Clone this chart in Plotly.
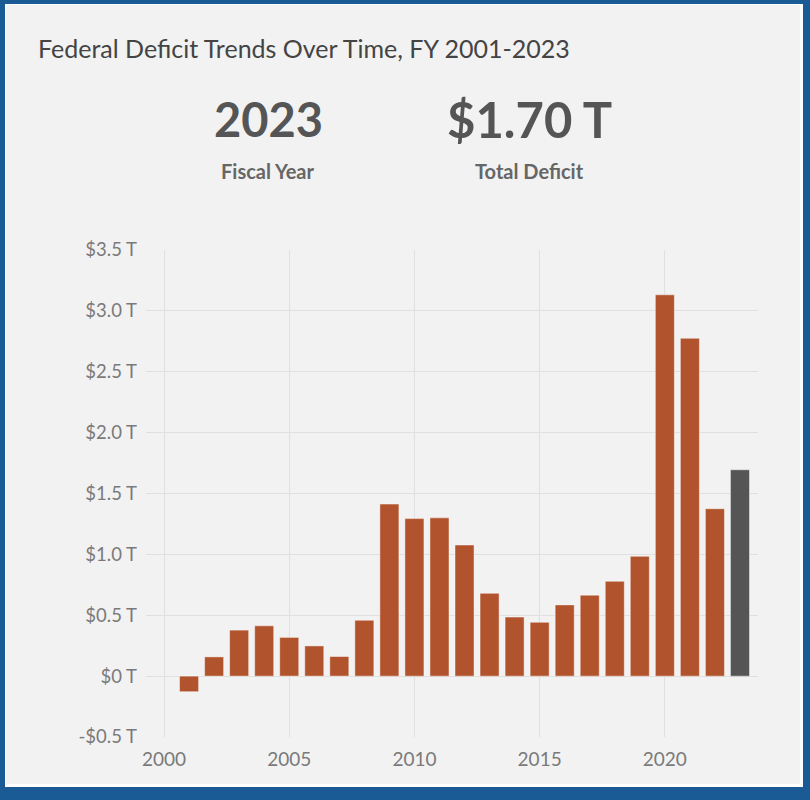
import plotly.graph_objects as go

# ---- data ----
years = list(range(2001, 2024))
deficit_t = [-0.128, 0.158, 0.378, 0.413, 0.318, 0.248, 0.161, 0.459, 1.413, 1.294,
             1.300, 1.077, 0.680, 0.485, 0.442, 0.585, 0.665, 0.779, 0.984, 3.132,
             2.775, 1.375, 1.695]
y_tick_vals = [-0.5, 0, 0.5, 1.0, 1.5, 2.0, 2.5, 3.0, 3.5]
y_tick_text = ["-$0.5 T", "$0 T", "$0.5 T", "$1.0 T", "$1.5 T", "$2.0 T", "$2.5 T", "$3.0 T", "$3.5 T"]
x_tick_vals = [2000, 2005, 2010, 2015, 2020]

title_text = "Federal Deficit Trends Over Time, FY 2001-2023"
headline_year = "2023"
headline_year_label = "Fiscal Year"
headline_value = "$1.70 T"
headline_value_label = "Total Deficit"

BAR = "#b1532c"
HIGHLIGHT = "#555555"
BG = "#f2f2f2"
BLUE = "#1a5a95"
FONT = "Lato"

colors = [BAR] * (len(years) - 1) + [HIGHLIGHT]

W, H = 810, 800
L, R, T, B = 146, 758, 250, 737


def px(x):
    return (x - L) / (R - L)


def py(y):
    return (B - y) / (B - T)


fig = go.Figure(go.Bar(
    x=years, y=deficit_t,
    marker=dict(color=colors, line=dict(color="rgba(255,255,255,0.45)", width=1)),
    width=0.76,
    hoverinfo="x+y",
))

shapes = [
    dict(type="rect", xref="paper", yref="paper", layer="below",
         x0=px(5), x1=px(803), y0=py(4), y1=py(787),
         fillcolor="#ffffff", line=dict(width=0)),
    dict(type="rect", xref="paper", yref="paper", layer="below",
         x0=px(6), x1=px(800), y0=py(5), y1=py(784),
         fillcolor=BG, line=dict(width=0)),
]

annotations = [
    dict(text=title_text, xref="paper", yref="paper", x=px(36), y=py(48),
         xanchor="left", yanchor="middle", showarrow=False,
         font=dict(family=FONT, size=25, color="#444444")),
    dict(text="<b>" + headline_year + "</b>", xref="paper", yref="paper", x=px(268), y=py(119),
         xanchor="center", yanchor="middle", showarrow=False,
         font=dict(family=FONT, size=47, color="#555555")),
    dict(text="<b>" + headline_value + "</b>", xref="paper", yref="paper", x=px(529), y=py(119),
         xanchor="center", yanchor="middle", showarrow=False,
         font=dict(family=FONT, size=49, color="#555555")),
    dict(text="<b>" + headline_year_label + "</b>", xref="paper", yref="paper", x=px(268), y=py(171),
         xanchor="center", yanchor="middle", showarrow=False,
         font=dict(family=FONT, size=20, color="#666666")),
    dict(text="<b>" + headline_value_label + "</b>", xref="paper", yref="paper", x=px(529), y=py(171),
         xanchor="center", yanchor="middle", showarrow=False,
         font=dict(family=FONT, size=20, color="#666666")),
]

fig.update_layout(
    width=W, height=H,
    margin=dict(l=L, r=W - R, t=T, b=H - B, pad=0),
    paper_bgcolor=BLUE,
    plot_bgcolor=BG,
    showlegend=False,
    shapes=shapes,
    annotations=annotations,
    bargap=0.24,
    font=dict(family=FONT),
)
fig.update_xaxes(
    range=[1999.28, 2023.72], tickvals=x_tick_vals, showgrid=True,
    gridcolor="#e0e0e0", gridwidth=1, zeroline=False, showline=False,
    ticks="", ticklabelstandoff=9, tickfont=dict(family=FONT, size=19, color="#7a7a7a"),
    fixedrange=True,
)
fig.update_yaxes(
    range=[-0.5, 3.5], tickvals=y_tick_vals, ticktext=y_tick_text, showgrid=True,
    gridcolor="#e0e0e0", gridwidth=1, zeroline=False, showline=False,
    ticks="", ticklabelstandoff=8, tickfont=dict(family=FONT, size=18.5, color="#7a7a7a"),
    fixedrange=True,
)

fig.write_html("out.html", config={"displayModeBar": False})
